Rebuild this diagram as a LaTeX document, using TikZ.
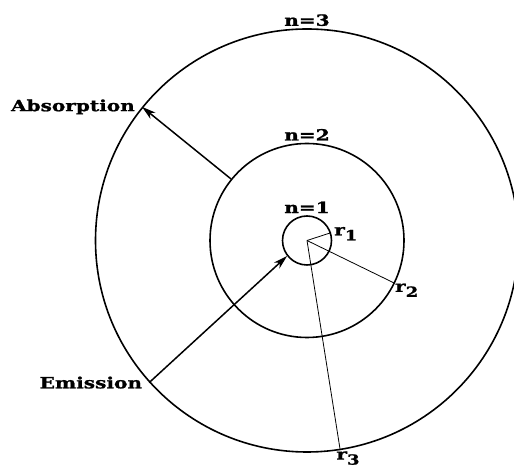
\documentclass[tikz,border=0pt]{standalone}
\usepackage{fontspec}
\newfontfamily\clarfont[FakeStretch=1.3,FakeBold=1.2]{DejaVu Serif}
\usepackage{tikz}
\usetikzlibrary{arrows.meta,positioning}
\newcommand{\rsub}[1]{r\raisebox{-5bp}{\fontsize{14}{16}\selectfont#1}}
\tikzset{
  orbit/.style={circle, draw, line width=1.6pt, inner sep=0pt},
  radius/.style={line width=0.8pt},
  jump/.style={-{Stealth[length=14pt,width=8pt,inset=4pt]}, line width=1.5pt},
  lbl/.style={font=\clarfont\bfseries\fontsize{15.5}{18}\selectfont, inner sep=1pt},
}
\begin{document}
\begin{tikzpicture}[x=1bp, y=1bp]
  \useasboundingbox (0,0) rectangle (514,469);
  % nucleus and the three orbits
  \coordinate (c) at (307,228.5);
  \node[orbit, minimum size=49bp] (orb1) at (c) {};
  \node[orbit, minimum size=194bp] (orb2) at (c) {};
  \node[orbit, minimum size=423bp] (orb3) at (c) {};

  % orbit labels
  \node[lbl, above=1bp of orb1.north] (n1) {n=1};
  \node[lbl, above=1bp of orb2.north] (n2) {n=2};
  \node[lbl, above=1bp of orb3.north] (n3) {n=3};

  % radii
  \draw[radius] (c) -- (orb1.18);
  \draw[radius] (c) -- (orb2.-26);
  \draw[radius] (c) -- (orb3.-81);
  \node[lbl, anchor=west] (r1) at ([xshift=2bp,yshift=-1bp]orb1.18) {\rsub{1}};
  \node[lbl, anchor=north west] (r2) at ([xshift=-1bp,yshift=1bp]orb2.-26) {\rsub{2}};
  \node[lbl, anchor=north west] (r3) at ([xshift=-5bp,yshift=0bp]orb3.-81) {\rsub{3}};

  % transitions
  \draw[jump] (orb2.141) -- (orb3.141);
  \draw[jump] (orb3.222) -- (orb1.218);
  \node[lbl, left=6bp of orb3.141] (abs) {Absorption};
  \node[lbl, left=6bp of orb3.222] (emi) {Emission};
\end{tikzpicture}
\end{document}
